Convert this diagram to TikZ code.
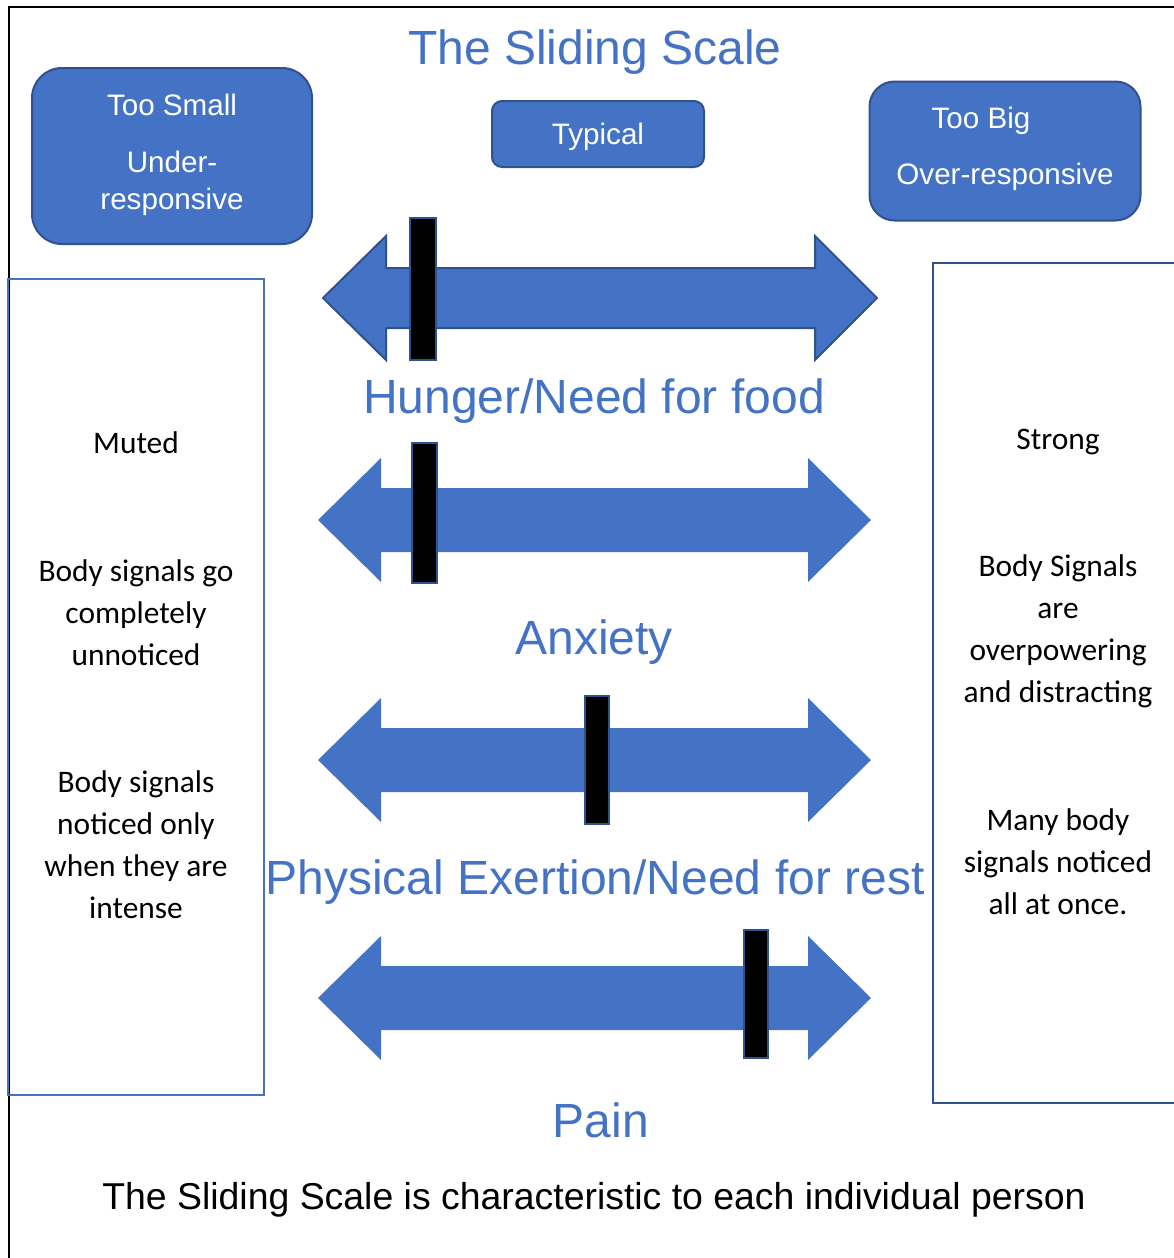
\documentclass[tikz,border=0pt]{standalone}
\usepackage{fontspec}
\setmainfont{Liberation Sans}
\newfontfamily\calib{Carlito}
\definecolor{acc}{HTML}{4472C4}
\definecolor{accdark}{HTML}{2F528F}
\begin{document}
\begin{tikzpicture}[x=1pt,y=-1pt,
  bluebox/.style={draw=accdark,fill=acc,line width=2pt,inner sep=0pt},
  boxtext/.style={text=white,font=\fontsize{29.6}{34}\selectfont,inner sep=0pt,anchor=base},
  heading/.style={text=acc,font=\fontsize{48}{56}\selectfont,inner sep=0pt,anchor=base},
  sidetext/.style={text=black,font=\calib\fontsize{31.4}{42}\selectfont,inner sep=0pt,anchor=base},
  arrowfill/.style={fill=acc},
  slider/.style={fill=black,draw=accdark,line width=1.5pt}]
\useasboundingbox (0,0) rectangle (1174,1258);
% outer frame
\draw[line width=2pt] (9,1258) -- (9,7) -- (1174,7);
% side boxes
\draw[draw=acc,line width=2pt] (8,279) rectangle (264,1095);
\draw[draw=accdark,line width=2.5pt] (1180,263) -- (933,263) -- (933,1103) -- (1180,1103);
% top boxes
\node[bluebox,minimum width=280,minimum height=176,rounded corners=30pt] (small) at (172,156) {};
\node[bluebox,minimum width=212,minimum height=66,rounded corners=10pt] (typical) at (598,134) {};
\node[bluebox,minimum width=271,minimum height=139,rounded corners=25pt] (big) at (1005,151) {};
\node[boxtext] (smallA) at (172,115) {Too Small};
\node[boxtext] (smallB) at (172,172) {Under-};
\node[boxtext] (smallC) at (172,209) {responsive};
\node[boxtext] (typicalT) at (598,144) {Typical};
\node[boxtext] (bigA) at (981,128) {Too Big};
\node[boxtext] (bigB) at (1005,184) {Over-responsive};
% title
\node[heading] (title) at (595,64) {The Sliding Scale};
% arrow 1 (outlined)
\draw[arrowfill,draw=accdark,line width=2pt,line join=miter]
  (323,298) -- (386,236) -- (386,268) -- (815,268) -- (815,236) -- (877,298)
  -- (815,360) -- (815,328) -- (386,328) -- (386,360) -- cycle;
\draw[slider] (410,218) rectangle (436,360);
% arrows 2-4
\foreach \c in {520,760,998}{
  \fill[arrowfill] (318,\c) -- (381,\c-62) -- (381,\c-32) -- (808,\c-32) -- (808,\c-62) -- (871,\c)
   -- (808,\c+62) -- (808,\c+32) -- (381,\c+32) -- (381,\c+62) -- cycle;
}
\draw[slider] (412,443) rectangle (437,583);
\draw[slider] (585,696) rectangle (609,824);
\draw[slider] (744,930) rectangle (768,1058);
% headings
\node[heading] (hunger) at (594,413) {Hunger/Need for food};
\node[heading] (anx) at (594,654) {Anxiety};
\node[heading] (phys) at (595,894) {Physical Exertion/Need for rest};
\node[heading] (pain) at (601,1137) {Pain};
% left texts
\node[sidetext] (muted) at (136,453) {Muted};
\node[sidetext] (leftB) at (136,581) {\begin{tabular}[t]{@{}c@{}}Body signals go\\completely\\unnoticed\end{tabular}};
\node[sidetext] (leftC) at (136,792) {\begin{tabular}[t]{@{}c@{}}Body signals\\noticed only\\when they are\\intense\end{tabular}};
% right texts
\node[sidetext] (strong) at (1058,449) {Strong};
\node[sidetext] (rightB) at (1058,576) {\begin{tabular}[t]{@{}c@{}}Body Signals\\are\\overpowering\\and distracting\end{tabular}};
\node[sidetext] (rightC) at (1058,830) {\begin{tabular}[t]{@{}c@{}}Many body\\signals noticed\\all at once.\end{tabular}};
% footer
\node[text=black,font=\fontsize{37.4}{44}\selectfont,inner sep=0pt,anchor=base] (foot) at (594,1209) {The Sliding Scale is characteristic to each individual person};
\end{tikzpicture}
\end{document}
